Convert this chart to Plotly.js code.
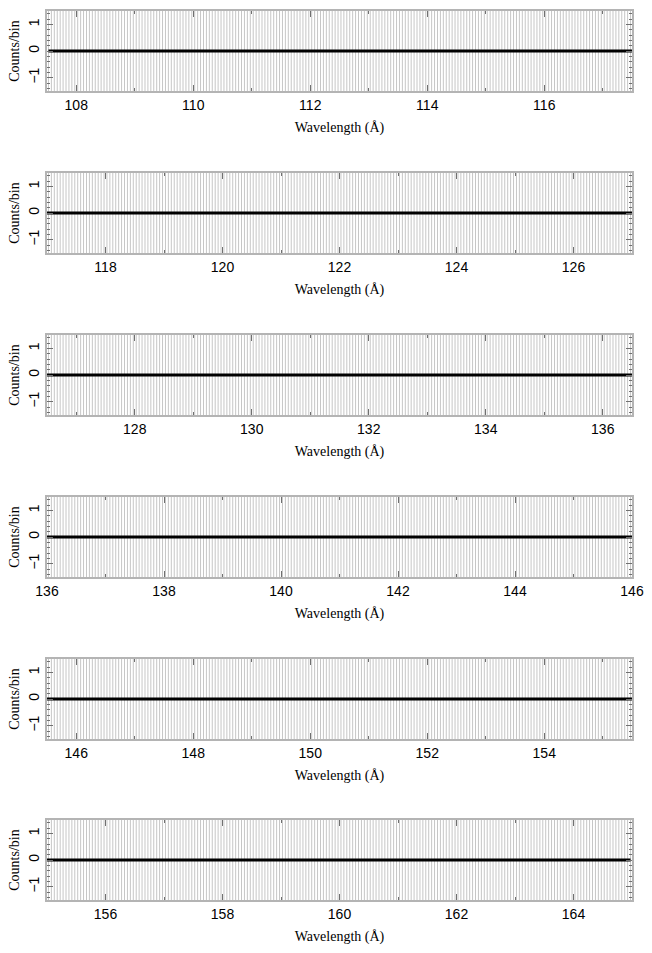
<!DOCTYPE html>
<html>
<head>
<meta charset="utf-8">
<script src="https://cdn.plot.ly/plotly-3.0.1.min.js"></script>
<style>html,body{margin:0;padding:0;background:#fff;}#chart{width:652px;height:953px;}</style>
</head>
<body>
<div id="chart"></div>
<script>
// Wavelength ranges of the six panels (Å)
const panelRanges = [[107.5, 117.5], [117, 127], [126.5, 136.5], [136, 146], [145.5, 155.5], [155, 165]];
// Spectral binning (Å)
const binStart = 107.5;
const binWidth = 0.05;
const nBins = 1150;
// Counts per bin (all zero in the picture) and their error (beyond the plotted range)
const counts = Array(nBins).fill(0);
const countErr = Array(nBins).fill(1.87);
// Tick settings
const xMajorStep = 2;
const xMinorStep = 1;
const yTickVals = [-1, 0, 1];
const yTickText = ['\u22121', '0', '1'];
const yRange = [-1.5, 1.5];

const binCenters = counts.map((_, i) => binStart + (i + 0.5) * binWidth);

const W = 652, H = 953;
const plotLeft = 47, plotRight = 632;
const panelTops = [11, 173, 335, 497, 659, 820];
const panelH = 80;

const traces = [];
const layout = {
  width: W, height: H,
  margin: {l: 0, r: 0, t: 0, b: 0},
  paper_bgcolor: '#fff', plot_bgcolor: '#fff',
  showlegend: false
};

const axisLineColor = '#b4b4b4';
const tickColor = '#707070';
const tickFont = {family: 'Liberation Sans, Arial, sans-serif', size: 14, color: '#000'};
const titleFont = {family: 'Liberation Serif, Times New Roman, serif', size: 14, color: '#000'};

panelRanges.forEach((rng, k) => {
  const n = k === 0 ? '' : String(k + 1);
  const xa = 'x' + n, ya = 'y' + n;
  const top = panelTops[k], bot = top + panelH;
  // error bars (vertical grey lines)
  traces.push({
    type: 'scatter', mode: 'markers', x: binCenters, y: counts,
    xaxis: xa, yaxis: ya, marker: {size: 0.1, opacity: 0},
    error_y: {type: 'data', array: countErr, visible: true, color: '#c6c6c6', thickness: 1, width: 0},
    hoverinfo: 'skip'
  });
  // histogram line
  traces.push({
    type: 'scatter', mode: 'lines', x: binCenters, y: counts,
    xaxis: xa, yaxis: ya, line: {color: '#000', width: 3, shape: 'hvh'},
    hoverinfo: 'skip'
  });
  layout['xaxis' + n] = {
    domain: [plotLeft / W, plotRight / W],
    anchor: ya, range: rng, dtick: xMajorStep, tick0: 0,
    showgrid: false, zeroline: false,
    showline: true, linecolor: axisLineColor, linewidth: 2, mirror: 'ticks',
    ticks: 'inside', ticklen: 6, tickwidth: 1, tickcolor: tickColor,
    minor: {dtick: xMinorStep, tick0: 0, ticks: 'inside', ticklen: 3, tickwidth: 1, tickcolor: tickColor, showgrid: false},
    tickfont: tickFont,
    title: {text: 'Wavelength (\u00c5)', font: titleFont, standoff: 10},
    automargin: false, fixedrange: true
  };
  layout['yaxis' + n] = {
    domain: [1 - bot / H, 1 - top / H],
    anchor: xa, range: yRange,
    tickvals: yTickVals, ticktext: yTickText, tickangle: -90,
    showgrid: false, zeroline: false,
    showline: true, linecolor: axisLineColor, linewidth: 2, mirror: 'ticks',
    ticks: 'inside', ticklen: 6, tickwidth: 1, tickcolor: tickColor,
    minor: {dtick: 0.2, tick0: 0, ticks: 'inside', ticklen: 3, tickwidth: 1, tickcolor: tickColor, showgrid: false},
    tickfont: tickFont,
    title: {text: 'Counts/bin', font: titleFont, standoff: 4},
    automargin: false, fixedrange: true
  };
});

Plotly.newPlot('chart', traces, layout, {staticPlot: true, displayModeBar: false});
</script>
</body>
</html>
